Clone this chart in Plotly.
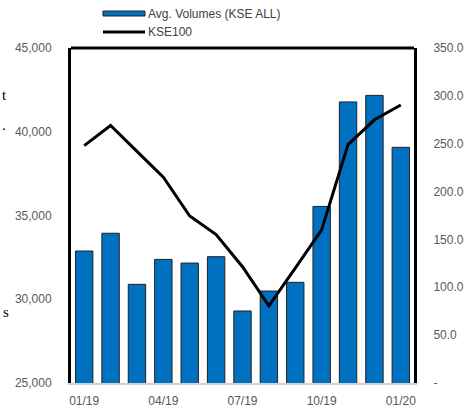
import plotly.graph_objects as go

months = ["01/19", "02/19", "03/19", "04/19", "05/19", "06/19", "07/19",
          "08/19", "09/19", "10/19", "11/19", "12/19", "01/20"]
avg_volumes = [32880, 33940, 30890, 32380, 32160, 32540, 29300,
               30490, 31010, 35540, 41780, 42170, 39070]
kse100 = [248, 269, 242, 215, 174.5, 155, 121.5, 80.5, 120, 160, 249, 275, 290.5]

x_tick_vals = ["01/19", "04/19", "07/19", "10/19", "01/20"]
left_ticks = [25000, 30000, 35000, 40000, 45000]
right_ticks = [0, 50, 100, 150, 200, 250, 300, 350]
right_tick_text = ["-", "50.0", "100.0", "150.0", "200.0", "250.0", "300.0", "350.0"]

W, H = 468, 408
L, R, T, B = 71, 54, 48, 25
PW, PH = W - L - R, H - T - B


def px(x):
    return (x - L) / PW


def py(y):
    return (H - B - y) / PH


fig = go.Figure()
fig.add_trace(go.Bar(
    x=months, y=avg_volumes, name="Avg. Volumes (KSE ALL)",
    marker=dict(color="#0070C0", line=dict(color="#222222", width=1)),
    yaxis="y", showlegend=False,
))
fig.add_trace(go.Scatter(
    x=months, y=kse100, name="KSE100", mode="lines",
    line=dict(color="#000000", width=3), yaxis="y2", showlegend=False,
))

font = dict(family="Liberation Sans, Arial, sans-serif", size=12, color="#595959")

fig.update_layout(
    width=W, height=H,
    margin=dict(l=L, r=R, t=T, b=B, autoexpand=False),
    paper_bgcolor="white", plot_bgcolor="white",
    bargap=0.34,
    font=font,
    xaxis=dict(
        type="category", tickmode="array", tickvals=x_tick_vals, ticktext=x_tick_vals,
        showline=True, linecolor="#d0d0d0", linewidth=2, ticks="", showgrid=False,
        tickfont=font, ticklabelstandoff=6, automargin=False,
    ),
    yaxis=dict(
        range=[25000, 45000], tickvals=left_ticks, tickformat=",",
        showline=True, linecolor="#000000", linewidth=3, showgrid=False,
        ticks="", tickfont=font, ticklabelstandoff=14, zeroline=False,
        automargin=False,
    ),
    yaxis2=dict(
        range=[0, 350], tickvals=right_ticks, ticktext=right_tick_text,
        overlaying="y", side="right",
        showline=True, linecolor="#000000", linewidth=3, showgrid=False,
        ticks="", tickfont=font, ticklabelstandoff=14, zeroline=False,
        automargin=False,
    ),
    shapes=[
        dict(type="line", xref="paper", yref="paper", x0=0, x1=1, y0=1, y1=1,
             line=dict(color="#000000", width=3)),
        dict(type="rect", xref="paper", yref="paper",
             x0=px(103), x1=px(145), y0=py(16), y1=py(11),
             fillcolor="#0070C0", line=dict(color="#222222", width=1)),
        dict(type="line", xref="paper", yref="paper",
             x0=px(103), x1=px(145), y0=py(32), y1=py(32),
             line=dict(color="#000000", width=3)),
    ],
    annotations=[
        dict(text="Avg. Volumes (KSE ALL)", xref="paper", yref="paper",
             x=px(146), y=py(14), xanchor="left", yanchor="middle",
             showarrow=False, font=dict(family="Liberation Sans, Arial", size=12, color="#404040")),
        dict(text="KSE100", xref="paper", yref="paper",
             x=px(146), y=py(32), xanchor="left", yanchor="middle",
             showarrow=False, font=dict(family="Liberation Sans, Arial", size=12, color="#404040")),
        dict(text="t", xref="paper", yref="paper", x=px(0), y=py(95),
             xanchor="left", yanchor="middle", showarrow=False,
             font=dict(family="Liberation Serif, serif", size=15, color="#000000")),
        dict(text=".", xref="paper", yref="paper", x=px(0), y=py(125),
             xanchor="left", yanchor="middle", showarrow=False,
             font=dict(family="Liberation Serif, serif", size=15, color="#000000")),
        dict(text="s", xref="paper", yref="paper", x=px(1), y=py(312),
             xanchor="left", yanchor="middle", showarrow=False,
             font=dict(family="Liberation Serif, serif", size=15, color="#000000")),
    ],
)

fig.write_html("out.html", config={"displayModeBar": False},
               post_script="document.body.style.margin='0';")
